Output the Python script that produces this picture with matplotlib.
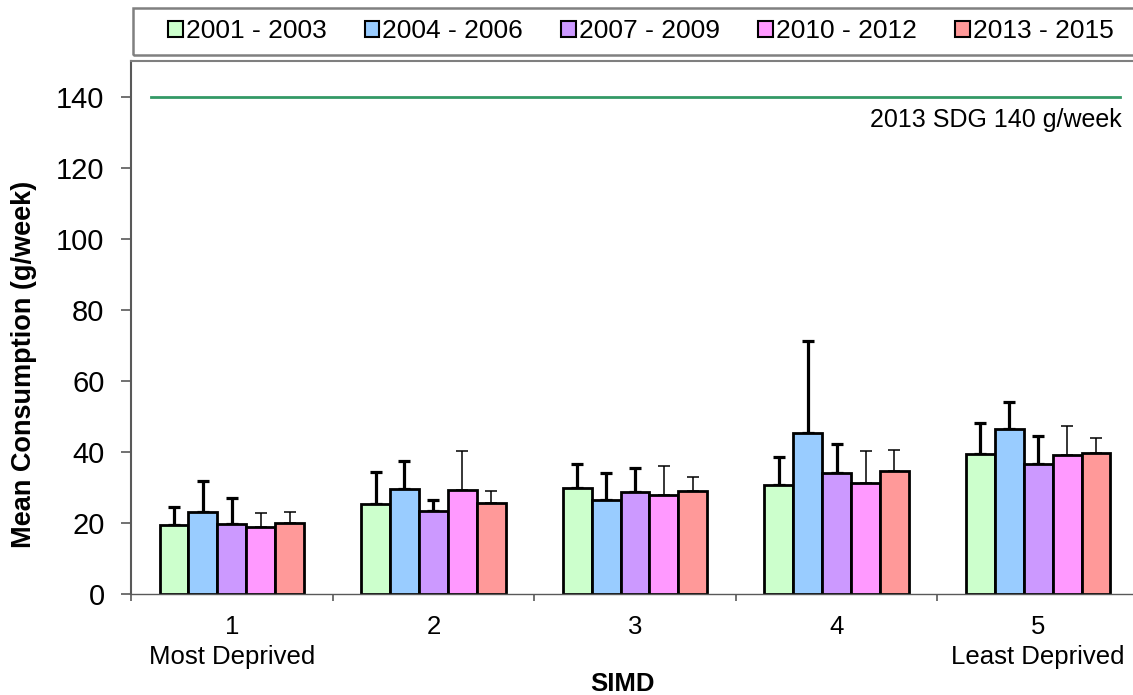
import numpy as np
import matplotlib
matplotlib.use("Agg")
import matplotlib.pyplot as plt
from matplotlib.patches import Patch, Rectangle

plt.rcParams["font.family"] = ["Liberation Sans", "DejaVu Sans"]

# mean weekly consumption by SIMD quintile, per survey period
simd = ["1", "2", "3", "4", "5"]
simd_notes = ["Most Deprived", "", "", "", "Least Deprived"]
periods = ["2001 - 2003", "2004 - 2006", "2007 - 2009", "2010 - 2012", "2013 - 2015"]
mean_0103 = [19.4, 25.3, 29.8, 30.6, 39.4]
mean_0406 = [23.2, 29.6, 26.4, 45.4, 46.4]
mean_0709 = [19.6, 23.3, 28.7, 34.0, 36.7]
mean_1012 = [18.9, 29.2, 28.0, 31.3, 39.0]
mean_1315 = [20.0, 25.5, 29.1, 34.7, 39.7]
# upper end of the error bar
upper_0103 = [24.4, 34.2, 36.5, 38.6, 48.0]
upper_0406 = [31.9, 37.5, 34.1, 71.1, 54.0]
upper_0709 = [27.0, 26.5, 35.4, 42.2, 44.4]
upper_1012 = [22.7, 40.2, 36.0, 40.3, 47.3]
upper_1315 = [23.2, 29.1, 32.8, 40.4, 43.9]
sdg_target = 140

means = [mean_0103, mean_0406, mean_0709, mean_1012, mean_1315]
uppers = [upper_0103, upper_0406, upper_0709, upper_1012, upper_1315]
colors = ["#CCFFCC", "#99CCFF", "#CC99FF", "#FF99FF", "#FF9999"]
err_lw = [2.3, 2.3, 2.3, 1.1, 1.1]

fig = plt.figure(figsize=(11.33, 6.95), dpi=100)
ax = fig.add_axes([131 / 1133, 101 / 695, 1008 / 1133, 533 / 695])

x = np.arange(len(simd))
w = 0.1434
for i, (m, u, c) in enumerate(zip(means, uppers, colors)):
    xi = x + (i - 2) * w
    m = np.array(m); u = np.array(u)
    ax.errorbar(xi, m, yerr=[np.zeros_like(m), u - m], fmt="none", ecolor="black",
                elinewidth=err_lw[i], capsize=4.5, capthick=err_lw[i], zorder=1)
    ax.bar(xi, m, width=w, color=c, edgecolor="black", linewidth=2.0, zorder=2)

ax.plot([-0.40, 4.406], [sdg_target, sdg_target], color="#339966", lw=2, zorder=3)
ax.text(4.416, sdg_target - 3.2, f"2013 SDG {sdg_target} g/week", ha="right", va="top",
        fontsize=18)

ax.set_xlim(-0.5, 4.5)
ax.set_ylim(0, 150)
ax.set_yticks(np.arange(0, 141, 20))
ax.tick_params(axis="y", labelsize=21, length=7, width=1.2, pad=12, color="#595959")
ax.set_xticks(x)
ax.set_xticklabels([f"{s}\n{n}" for s, n in zip(simd, simd_notes)], fontsize=18.5,
                   linespacing=1.3, va="top")
ax.set_xticks(np.arange(-0.5, 4.6, 1), minor=True)
ax.tick_params(axis="x", which="major", length=0, pad=15)
ax.tick_params(axis="x", which="minor", length=5, width=1.2, color="#595959")
for s in ax.spines.values():
    s.set_color("#7f7f7f")
    s.set_linewidth(1.5)
ax.spines["left"].set_color("#595959")
ax.spines["bottom"].set_color("#595959")
ax.spines["bottom"].set_linewidth(1.0)

ax.set_ylabel("Mean Consumption (g/week)", fontsize=19.5, fontweight="bold")
ax.yaxis.set_label_coords(-0.093, 0.43)
ax.set_xlabel("SIMD", fontsize=18.5, fontweight="bold")
ax.xaxis.set_label_coords(0.488, -0.146)

# legend strip across the top
fig.patches.append(Rectangle((133 / 1133, 1 - 55 / 695), 1.0, 47 / 695,
                             transform=fig.transFigure, fill=False,
                             edgecolor="#808080", linewidth=1.8))
handles = [Patch(facecolor=c, edgecolor="black", linewidth=1.5, label=p)
           for c, p in zip(colors, periods)]
fig.legend(handles=handles, ncol=5, frameon=False, loc="center left",
           bbox_to_anchor=(168 / 1133, 1 - 31.5 / 695), fontsize=19,
           handlelength=0.55, handleheight=0.55, handletextpad=0.12,
           columnspacing=1.45, borderpad=0, borderaxespad=0)

fig.savefig("out.png", dpi=100)
